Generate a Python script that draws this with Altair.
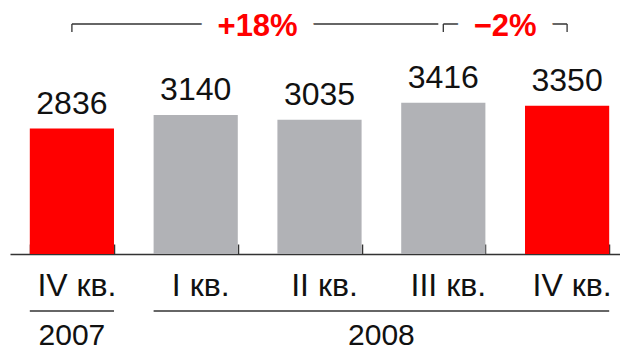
import altair as alt
import pandas as pd

# Quarterly figures, IV quarter 2007 through IV quarter 2008
quarters = ["IV", "I", "II", "III", "IV"]
years = [2007, 2008, 2008, 2008, 2008]
values = [2836, 3140, 3035, 3416, 3350]
highlight = [True, False, False, False, True]

# Change brackets drawn above the bars: (first quarter, compared quarter)
bracket_from = [0, 3]
bracket_to = [4, 4]

FONT = "Liberation Sans"
RED = "#ff0000"
GRAY = "#b1b2b6"
INK = "#111111"
LINE = "#333333"

W, H = 610, 254          # plot area
SPAN = 619               # x range; the last band runs past the right edge
Y_MAX = 5740             # y domain top (bars start at zero)
BRACKET_Y, BRACKET_TICK = 24, 8
YEAR_LINE_Y, YEAR_TEXT_Y = 311, 345
PAD_INNER = 0.32
STEP = SPAN / len(quarters)

keys = [f"{q} кв. {y}" for q, y in zip(quarters, years)]
bars_df = pd.DataFrame({
    "key": keys,
    "idx": list(range(len(keys))),
    "value": values,
    "hl": highlight,
})

# ---- bracket geometry, in category-index units ----
line_rows, tick_rows, label_rows = [], [], []
trim = 5 / STEP
for f, t in zip(bracket_from, bracket_to):
    # a bracket stops where the next one begins
    later = [s for s in bracket_from if f < s < t]
    end = min(later) if later else t
    pct = round((values[t] - values[f]) / values[f] * 100)
    text = f"+{pct}%" if pct > 0 else f"\u2212{abs(pct)}%"
    line_rows.append({"x": f, "x2": end - trim if later else end})
    tick_rows.append({"x": f})
    if not later:
        tick_rows.append({"x": end})
    label_rows.append({"x": (f + end) / 2, "label": text})
lines_df = pd.DataFrame(line_rows)
ticks_df = pd.DataFrame(tick_rows)
pct_df = pd.DataFrame(label_rows)

# ---- year groups below the quarter labels ----
half_bar = (1 - PAD_INNER) / 2
year_rows = []
for yr in sorted(set(years)):
    ids = [i for i, y in enumerate(years) if y == yr]
    year_rows.append({"year": str(yr), "x": ids[0] - half_bar, "x2": ids[-1] + half_bar,
                      "mid": (ids[0] + ids[-1]) / 2})
years_df = pd.DataFrame(year_rows)

band_scale = alt.Scale(range=[0, SPAN], paddingInner=PAD_INNER, paddingOuter=PAD_INNER / 2)
idx_scale = alt.Scale(domain=[-0.5, len(keys) - 0.5], range=[0, SPAN], nice=False, zero=False)
y_scale = alt.Scale(domain=[0, Y_MAX], nice=False, zero=True)

bars = alt.Chart(bars_df).mark_bar().encode(
    x=alt.X("key:N", sort=keys, scale=band_scale, title=None,
            axis=alt.Axis(orient="bottom", domain=False, ticks=False, grid=False,
                          labelExpr="substring(datum.label, 0, length(datum.label) - 5)",
                          labelFont=FONT, labelFontSize=32, labelColor=INK, labelAngle=0,
                          labelBaseline="alphabetic", labelPadding=41, labelOffset=5,
                          labelOverlap=False)),
    y=alt.Y("value:Q", scale=y_scale, axis=None),
    color=alt.condition(alt.datum.hl, alt.value(RED), alt.value(GRAY)),
)

value_text = alt.Chart(bars_df).mark_text(
    dy=-15, baseline="alphabetic", font=FONT, fontSize=32, color=INK
).encode(
    x=alt.X("key:N", sort=keys, scale=band_scale, title=None,
            axis=alt.Axis(orient="top", offset=-H, labels=False, grid=False,
                          domain=True, domainColor=LINE, domainWidth=1.5,
                          ticks=True, tickBand="extent", tickSize=10,
                          tickColor=LINE, tickWidth=1.5)),
    y=alt.Y("value:Q", scale=y_scale),
    text=alt.Text("value:Q", format="d"),
)

x_idx = alt.X("x:Q", scale=idx_scale, axis=None)

bracket_lines = alt.Chart(lines_df).mark_rule(color=LINE, strokeWidth=1.3).encode(
    x=x_idx, x2="x2:Q", y=alt.value(BRACKET_Y),
)
bracket_ticks = alt.Chart(ticks_df).mark_rule(color=LINE, strokeWidth=1.3).encode(
    x=x_idx, y=alt.value(BRACKET_Y), y2=alt.value(BRACKET_Y + BRACKET_TICK),
)
pct_halo = alt.Chart(pct_df).mark_text(
    font=FONT, fontSize=31, fontWeight="bold", baseline="alphabetic",
    fill="white", stroke="white", strokeWidth=34, strokeJoin="round",
).encode(x=x_idx, y=alt.value(36), text="label:N")
pct_text = alt.Chart(pct_df).mark_text(
    font=FONT, fontSize=31, fontWeight="bold", baseline="alphabetic", color=RED,
).encode(x=x_idx, y=alt.value(36), text="label:N")

year_lines = alt.Chart(years_df).mark_rule(color=LINE, strokeWidth=1.3).encode(
    x=x_idx, x2="x2:Q", y=alt.value(YEAR_LINE_Y),
)
year_text = alt.Chart(years_df).mark_text(
    font=FONT, fontSize=30, baseline="alphabetic", color=INK,
).encode(x=alt.X("mid:Q", scale=idx_scale, axis=None), y=alt.value(YEAR_TEXT_Y), text="year:N")

chart = alt.layer(
    bars, value_text, bracket_lines, bracket_ticks, pct_halo, pct_text, year_lines, year_text
).resolve_scale(x="independent").properties(
    width=W, height=H,
    padding={"left": 10, "top": 0, "right": 0, "bottom": 97},
    autosize=alt.AutoSizeParams(type="none"),
    background="white",
).configure_view(stroke=None)

chart.save("out.html", embed_options={"renderer": "svg", "actions": False})
